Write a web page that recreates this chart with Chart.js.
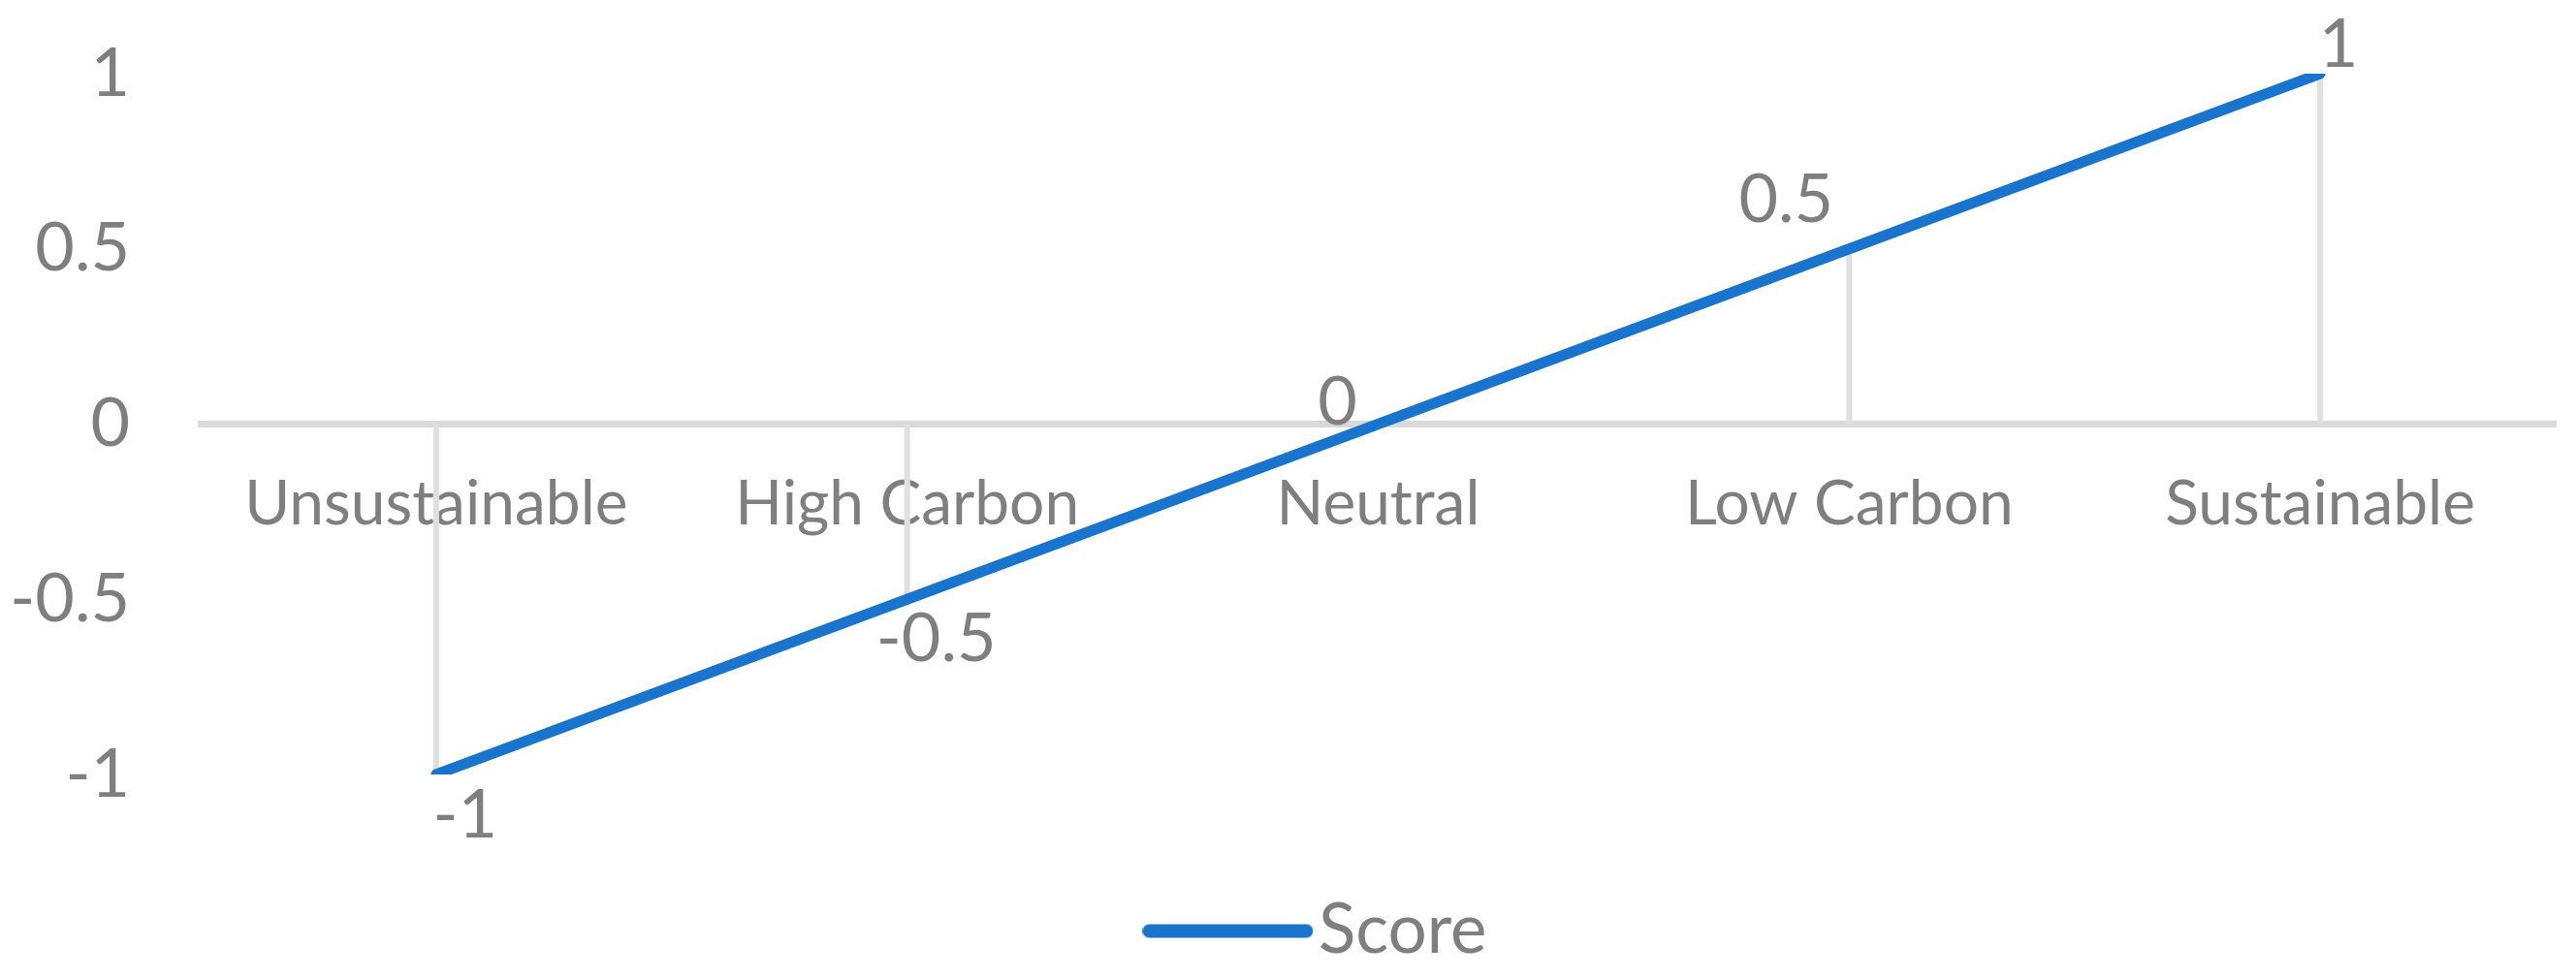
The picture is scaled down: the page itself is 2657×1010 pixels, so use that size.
<!DOCTYPE html>
<html>
<head>
<meta charset="utf-8">
<script src="https://cdn.jsdelivr.net/npm/chart.js@4.4.1/dist/chart.umd.min.js"></script>
<style>
  html, body { margin:0; padding:0; background:#fff; }
  #wrap { width:2657px; height:1010px; }
</style>
</head>
<body>
<div id="wrap"><canvas id="scoreChart"></canvas></div>
<script>
  const categories = ['Unsustainable', 'High Carbon', 'Neutral', 'Low Carbon', 'Sustainable'];
  const scores = [-1, -0.5, 0, 0.5, 1];
  const yTicks = [-1, -0.5, 0, 0.5, 1];

  const textGrey = '#7f7f7f';
  const lineBlue = '#1874cd';
  const fontFamily = 'Lato, "Open Sans", sans-serif';
  const catFont = 64;
  const numFont = 70;
  const legendFont = 71;

  // where each value label sits relative to its point
  const labelNudge = [[30, 42], [30, 41], [-42, -22], [-65, -50], [19, -30]];

  // legend swatch: thick rounded line, drawn on a small canvas
  const swatch = document.createElement('canvas');
  swatch.width = 176; swatch.height = 16;
  (function () {
    const c = swatch.getContext('2d');
    c.strokeStyle = lineBlue; c.lineWidth = 14; c.lineCap = 'round';
    c.beginPath(); c.moveTo(7, 8); c.lineTo(169, 8); c.stroke();
  })();

  // excel style drop lines down (or up) to the zero axis
  const dropLines = {
    id: 'dropLines',
    beforeDatasetsDraw(chart) {
      const ctx = chart.ctx;
      const y0 = chart.scales.y.getPixelForValue(0);
      ctx.save();
      ctx.strokeStyle = '#e0e0e0';
      ctx.lineWidth = 6;
      chart.getDatasetMeta(0).data.forEach(pt => {
        ctx.beginPath();
        ctx.moveTo(pt.x, pt.y);
        ctx.lineTo(pt.x, y0);
        ctx.stroke();
      });
      ctx.restore();
    }
  };

  const valueLabels = {
    id: 'valueLabels',
    afterDatasetsDraw(chart) {
      const ctx = chart.ctx;
      ctx.save();
      ctx.fillStyle = textGrey;
      ctx.font = numFont + 'px ' + fontFamily;
      ctx.textAlign = 'center';
      ctx.textBaseline = 'middle';
      chart.getDatasetMeta(0).data.forEach((pt, i) => {
        const [dx, dy] = labelNudge[i];
        ctx.fillText(String(scores[i]), pt.x + dx, pt.y + dy);
      });
      ctx.restore();
    }
  };

  // legend sits a bit right of the canvas centre
  const legendShift = {
    id: 'legendShift',
    afterLayout(chart) {
      chart.legend.left += 53;
      chart.legend.right += 53;
    }
  };

  new Chart(document.getElementById('scoreChart').getContext('2d'), {
    type: 'line',
    data: {
      labels: categories,
      datasets: [
        { label: 'Score', data: scores, borderColor: lineBlue, backgroundColor: lineBlue, borderWidth: 11,
          borderCapStyle: 'round', pointRadius: 0, tension: 0, fill: false }
      ]
    },
    options: {
      responsive: true, maintainAspectRatio: false, animation: false,
      layout: { padding: { left: 0, right: 21, top: 76, bottom: 4 } },
      plugins: {
        legend: {
          position: 'bottom',
          labels: { usePointStyle: true, pointStyle: swatch, pointStyleWidth: 116, color: textGrey,
                    font: { family: fontFamily, size: legendFont }, padding: 126 }
        },
        tooltip: { enabled: false }
      },
      scales: {
        x: {
          type: 'category', position: { y: 0 }, offset: true,
          grid: { display: false, drawTicks: false },
          border: { color: '#d9d9d9', width: 7 },
          ticks: { color: textGrey, font: { family: fontFamily, size: catFont }, padding: 44 }
        },
        y: {
          min: -1, max: 1,
          grid: { display: false, drawTicks: false },
          border: { display: false },
          afterBuildTicks: s => { s.ticks = yTicks.map(v => ({ value: v })); },
          afterFit: s => { s.width = 207; s.paddingTop = 0; s.paddingBottom = 0; },
          ticks: { color: textGrey, font: { family: fontFamily, size: numFont }, padding: 73,
                   callback: v => String(v) }
        }
      }
    },
    plugins: [dropLines, valueLabels, legendShift]
  });
</script>
</body>
</html>
